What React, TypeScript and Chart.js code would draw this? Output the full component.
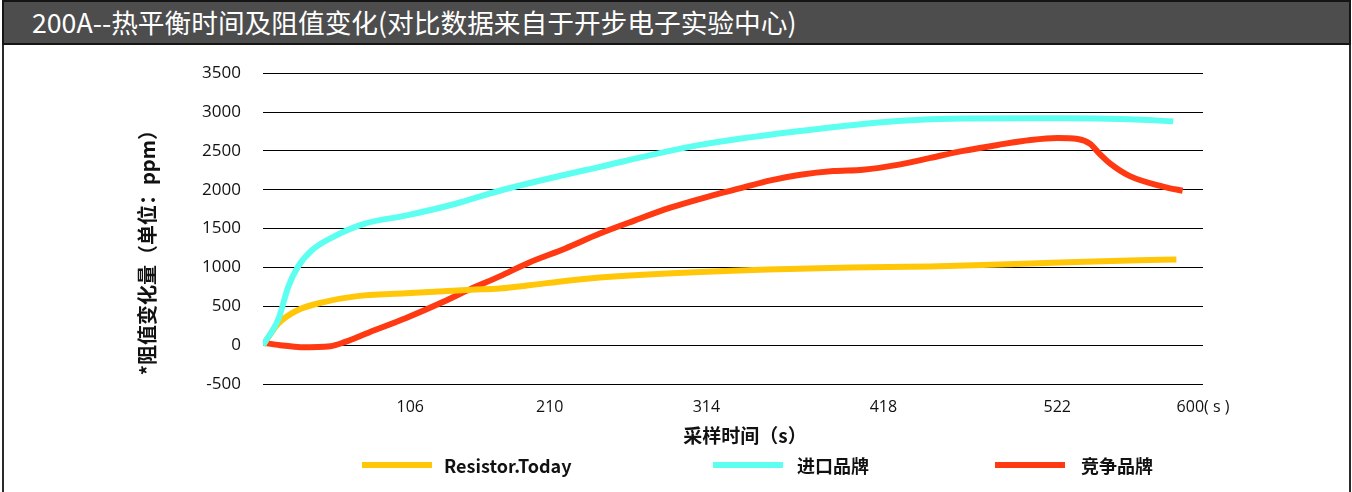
import React, { useEffect, useRef } from "react";
import { Chart, registerables } from "chart.js";

Chart.register(...registerables);

const chartTitle = "200A--热平衡时间及阻值变化(对比数据来自于开步电子实验中心)";
const xAxisTitle = "采样时间（s）";
const yAxisTitle = "*阻值变化量（单位：ppm）";

const seriesNames = ["Resistor.Today", "进口品牌", "竞争品牌"];
const seriesColors = ["#FFC708", "#5CFFF0", "#FF3A12"];

// sample time (s) and resistance change (ppm) for each series
const resistorTodayTime = [0, 10, 22, 38, 59, 91, 133, 151, 170, 194, 215, 258, 322, 375, 426, 490, 553, 583];
const resistorTodayPpm = [0, 282, 449, 551, 628, 667, 714, 730, 770, 830, 870, 923, 974, 1000, 1013, 1051, 1090, 1103];

const importedTime = [0, 10, 16, 22, 31, 44, 65, 91, 123, 151, 215, 279, 343, 405, 447, 511, 553, 581];
const importedPpm = [0, 346, 744, 1000, 1218, 1385, 1564, 1667, 1820, 1987, 2295, 2577, 2756, 2885, 2917, 2920, 2907, 2880];

const competitorTime = [0, 11, 24, 43, 52, 68, 91, 113, 132, 151, 170, 193, 215, 237, 260, 282, 305, 324, 343, 364, 383, 405, 426, 447, 469, 490, 507, 520, 528, 534, 541, 553, 575, 587];
const competitorPpm = [30, 0, -26, -13, 38, 167, 346, 538, 718, 885, 1064, 1244, 1436, 1603, 1769, 1900, 2020, 2120, 2192, 2240, 2258, 2320, 2410, 2500, 2577, 2641, 2667, 2654, 2590, 2462, 2333, 2179, 2038, 1987];

const xTickPositions = [94, 183, 283, 396, 507, 600];
const xTickLabels = ["106", "210", "314", "418", "522", "600( s )"];
const yMin = -500;
const yMax = 3500;
const yStep = 500;

const toPoints = (t: number[], v: number[]) => t.map((x, i) => ({ x, y: v[i] }));

const FONT_LATIN = "'Open Sans', 'Noto Sans CJK SC', sans-serif";
const FONT_CJK = "'Noto Sans CJK SC', sans-serif";

const axisTitlePlugin = {
  id: "axisTitles",
  afterDraw(chart: any) {
    const ctx = chart.ctx;
    const a = chart.chartArea;
    ctx.save();
    ctx.fillStyle = "#111";
    ctx.textAlign = "center";
    ctx.textBaseline = "middle";
    // x axis title
    ctx.font = "bold 19px 'Noto Sans CJK SC'";
    ctx.fillText(xAxisTitle, (a.left + a.right) / 2 + 12, a.bottom + 52);
    // y axis title
    ctx.translate(a.left - 116, (a.top + a.bottom) / 2 + 19);
    ctx.rotate(-Math.PI / 2);
    ctx.font = "bold 20px 'Noto Sans CJK SC'";
    ctx.fillText(yAxisTitle, 0, 0);
    ctx.restore();
  },
};

export default function App() {
  const canvasRef = useRef<HTMLCanvasElement | null>(null);

  useEffect(() => {
    document.body.style.margin = "0";
    const canvas = canvasRef.current;
    if (!canvas) return;
    const datasets = [
      toPoints(resistorTodayTime, resistorTodayPpm),
      toPoints(importedTime, importedPpm),
      toPoints(competitorTime, competitorPpm),
    ].map((data, i) => ({
      label: seriesNames[i],
      data,
      borderColor: seriesColors[i],
      backgroundColor: seriesColors[i],
      borderWidth: 6,
      pointRadius: 0,
      cubicInterpolationMode: "monotone" as const,
      fill: false,
    }));
    const ordered = [datasets[1], datasets[0], datasets[2]];
    const chart = new Chart(canvas, {
      type: "line",
      data: { datasets: ordered },
      plugins: [axisTitlePlugin],
      options: {
        responsive: false,
        animation: false,
        layout: { padding: { top: 21, right: 145, bottom: 38, left: 0 } },
        plugins: { legend: { display: false }, tooltip: { enabled: false } },
        scales: {
          x: {
            type: "linear",
            min: 0,
            max: 600,
            grid: { display: false, drawTicks: false },
            border: { display: false },
            afterBuildTicks: (s: any) => {
              s.ticks = xTickPositions.map((v) => ({ value: v }));
            },
            afterFit: (s: any) => {
              s.height = 70;
            },
            ticks: {
              autoSkip: false,
              maxRotation: 0,
              padding: 14,
              color: "#111",
              font: { family: FONT_LATIN, size: 16 },
              callback: (v: any) => {
                const i = xTickPositions.indexOf(Number(v));
                return i >= 0 ? xTickLabels[i] : "";
              },
            },
          },
          y: {
            min: yMin,
            max: yMax,
            grid: { color: "#000", lineWidth: 1, drawTicks: false },
            border: { display: false },
            afterFit: (s: any) => {
              s.width = 259;
            },
            ticks: {
              stepSize: yStep,
              padding: 22,
              color: "#111",
              font: { family: FONT_LATIN, size: 17 },
              callback: (v: any) => String(v),
            },
          },
        },
      },
    });
    return () => chart.destroy();
  }, []);

  const legendLineLeft = [362, 713, 995];
  const legendTextLeft = [444, 797, 1081];

  return (
    <div style={{ position: "absolute", left: 0, top: 0, width: 1352, height: 492, background: "#fff", overflow: "hidden" }}>
      <canvas
        ref={canvasRef}
        width={1344}
        height={451}
        style={{ position: "absolute", left: 4, top: 41, width: 1344, height: 451 }}
      />
      <div style={{ position: "absolute", left: 2, top: 0, width: 2, height: 492, background: "#2a2a2a" }} />
      <div style={{ position: "absolute", left: 1349, top: 0, width: 2, height: 492, background: "#2a2a2a" }} />
      <div
        style={{
          position: "absolute",
          left: 2,
          top: 0,
          width: 1349,
          height: 45,
          boxSizing: "border-box",
          background: "#4d4d4d",
          border: "2px solid #151515",
          color: "#fff",
          fontFamily: FONT_CJK,
          fontSize: 26.7,
          lineHeight: "40px",
          paddingLeft: 28,
          whiteSpace: "nowrap",
        }}
      >
        {chartTitle}
      </div>
      {seriesNames.map((name, i) => (
        <React.Fragment key={name}>
          <div style={{ position: "absolute", left: legendLineLeft[i], top: 462, width: 70, height: 6, background: seriesColors[i] }} />
          <div
            style={{
              position: "absolute",
              left: legendTextLeft[i],
              top: 453,
              lineHeight: "24px",
              fontFamily: FONT_CJK,
              fontWeight: "bold",
              fontSize: 18,
              color: "#111",
              whiteSpace: "nowrap",
            }}
          >
            {name}
          </div>
        </React.Fragment>
      ))}
    </div>
  );
}
